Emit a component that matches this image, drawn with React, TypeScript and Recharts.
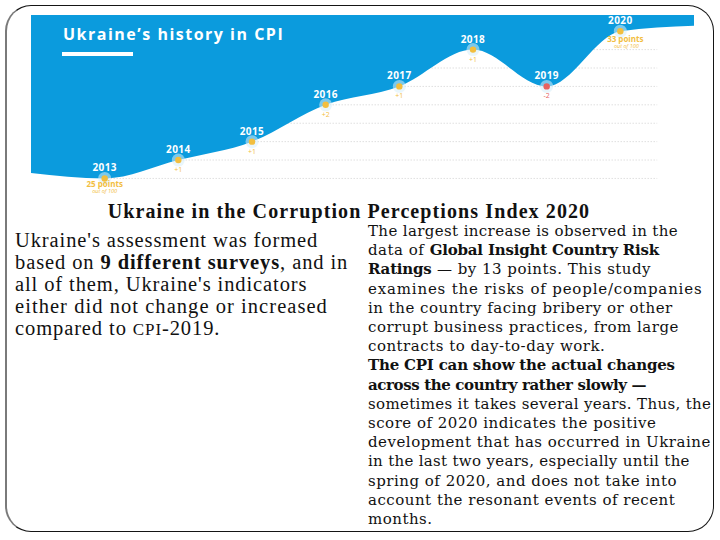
import React from 'react';
import { AreaChart, Area, XAxis, YAxis, ReferenceLine } from 'recharts';

// CPI history, with one padding point each side so the curve runs to the edges
const years = [2012, 2013, 2014, 2015, 2016, 2017, 2018, 2019, 2020, 2021];
const cpiScores = [25.3, 25, 26, 27, 29, 30, 32, 30, 33, 33.3];
const yearLabels = ['', '2013', '2014', '2015', '2016', '2017', '2018', '2019', '2020', ''];
const changeLabels = ['', '25 points', '+1', '+1', '+2', '+1', '+1', '-2', '33 points', ''];
const gridLevels = [25, 26, 27, 28, 29, 30, 31, 32];

const BLUE = '#0B9BDD';
const YELLOW = '#F2BE3F';
const RED = '#E8625F';
const TOP = 33.88;

const chartData = years.map((year, i) => ({
  year,
  cpi: cpiScores[i],
  label: yearLabels[i],
  change: changeLabels[i],
}));

function renderDot(props: any) {
  const { cx, cy, payload, index } = props;
  if (!payload.label) return <g key={`dot-${index}`} />;
  const isDrop = payload.change.startsWith('-');
  const isScore = payload.change.includes('points');
  const isLast = payload.year === 2020;
  return (
    <g key={`dot-${index}`} fontFamily="'Open Sans', sans-serif">
      <circle cx={cx} cy={cy} r={6.5} fill="#d7eefa" fillOpacity={0.55} />
      <circle cx={cx} cy={cy} r={3.2} fill={isDrop ? RED : YELLOW} />
      <text
        x={cx}
        y={cy - 7}
        textAnchor="middle"
        fill="#ffffff"
        fontSize={10}
        fontWeight={700}
        letterSpacing={0.4}
      >
        {payload.label}
      </text>
      {isScore ? (
        <>
          <text
            x={cx + (isLast ? 5 : 0)}
            y={cy + (isLast ? 10.5 : 8.5)}
            textAnchor="middle"
            fill={YELLOW}
            fontSize={8}
            fontWeight={700}
          >
            {payload.change}
          </text>
          <text
            x={cx + (isLast ? 6 : 0)}
            y={cy + (isLast ? 17 : 15)}
            textAnchor="middle"
            fill={YELLOW}
            fontSize={5.5}
            fontStyle="italic"
          >
            out of 100
          </text>
        </>
      ) : (
        <text
          x={cx}
          y={cy + 12}
          textAnchor="middle"
          fill={isDrop ? RED : YELLOW}
          fontSize={7}
        >
          {payload.change}
        </text>
      )}
    </g>
  );
}

const serif = "'Liberation Serif', 'Times New Roman', serif";
const serif2 = "'DejaVu Serif', Georgia, serif";
const chartMargin = { top: 15, right: 0, bottom: 20, left: 0 };

// one line of the right-hand column, with its own tracking
const Line = ({ ls = 0.5, children }: { ls?: number; children: React.ReactNode }) => (
  <div style={{ letterSpacing: ls }}>{children}</div>
);
const B = ({ children }: { children: React.ReactNode }) => (
  <b style={{ letterSpacing: -0.2 }}>{children}</b>
);

export default function App() {
  return (
    <div style={{ position: 'absolute', left: 0, top: 0, width: 720, height: 540, background: '#fff' }}>
      {/* slide frame */}
      <div
        style={{
          position: 'absolute',
          left: 5,
          top: 5,
          width: 709,
          height: 527,
          border: '1.5px solid #151515',
          borderLeft: '2.5px solid #7a7a7a',
          borderRadius: 26,
          boxSizing: 'border-box',
        }}
      />

      {/* dotted guide lines sit in their own chart under the blue area */}
      <div style={{ position: 'absolute', left: 31, top: 0 }}>
        <AreaChart width={663} height={215} data={chartData} margin={chartMargin}>
          <XAxis dataKey="year" type="number" domain={[2012, 2021]} hide />
          <YAxis type="number" domain={[24.1, TOP]} hide allowDataOverflow />
          {gridLevels.map((v) => (
            <ReferenceLine
              key={v}
              segment={[
                { x: 2013, y: v },
                { x: 2020.5, y: v },
              ]}
              stroke="#cfcfcf"
              strokeDasharray="1 2"
              strokeWidth={1}
            />
          ))}
        </AreaChart>
      </div>

      <div style={{ position: 'absolute', left: 31, top: 0 }}>
        <AreaChart width={663} height={215} data={chartData} margin={chartMargin}>
          <XAxis dataKey="year" type="number" domain={[2012, 2021]} hide />
          <YAxis type="number" domain={[24.1, TOP]} hide allowDataOverflow />
          <Area
            type="monotone"
            dataKey="cpi"
            baseValue={TOP}
            stroke="none"
            fill={BLUE}
            fillOpacity={1}
            dot={renderDot}
            activeDot={false}
            isAnimationActive={false}
          />
        </AreaChart>
      </div>

      {/* chart title */}
      <div
        style={{
          position: 'absolute',
          left: 63,
          top: 27,
          color: '#fff',
          fontFamily: "'Open Sans', sans-serif",
          fontWeight: 700,
          fontSize: 16,
          letterSpacing: 1.5,
          lineHeight: '15px',
          whiteSpace: 'nowrap',
        }}
      >
        Ukraine’s history in CPI
      </div>
      <div style={{ position: 'absolute', left: 62, top: 52, width: 71, height: 4, background: '#fff' }} />

      {/* text */}
      <div
        style={{
          position: 'absolute',
          left: 0,
          width: 698,
          top: 200,
          textAlign: 'center',
          fontFamily: serif,
          fontWeight: 700,
          fontSize: 20,
          letterSpacing: 1.1,
          lineHeight: '22px',
          color: '#111',
          whiteSpace: 'nowrap',
        }}
      >
        Ukraine in the Corruption Perceptions Index 2020
      </div>

      <div
        style={{
          position: 'absolute',
          left: 15,
          top: 229,
          fontFamily: serif,
          fontSize: 20.5,
          letterSpacing: 0.9,
          lineHeight: '22px',
          color: '#111',
          whiteSpace: 'nowrap',
        }}
      >
        Ukraine's assessment was formed
        <br />
        based on <b>9 different surveys</b>, and in
        <br />
        all of them, Ukraine's indicators
        <br />
        <span style={{ letterSpacing: 1.05 }}>either did not change or increased</span>
        <br />
        compared to <span style={{ fontSize: 17 }}>CPI</span>-2019.
      </div>

      <div
        style={{
          position: 'absolute',
          left: 368,
          top: 222,
          fontFamily: serif2,
          fontSize: 15,
          lineHeight: '19.2px',
          color: '#111',
          whiteSpace: 'nowrap',
        }}
      >
        <Line ls={0.37}>The largest increase is observed in the</Line>
        <Line>
          data of <B>Global Insight Country Risk</B>
        </Line>
        <Line>
          <B>Ratings</B> — by 13 points. This study
        </Line>
        <Line ls={0.82}>examines the risks of people/companies</Line>
        <Line>in the country facing bribery or other</Line>
        <Line>corrupt business practices, from large</Line>
        <Line>contracts to day-to-day work.</Line>
        <Line>
          <B>The CPI can show the actual changes</B>
        </Line>
        <Line>
          <b style={{ letterSpacing: -0.38 }}>across the country rather slowly —</b>
        </Line>
        <Line ls={0.34}>sometimes it takes several years. Thus, the</Line>
        <Line>score of 2020 indicates the positive</Line>
        <Line>development that has occurred in Ukraine</Line>
        <Line ls={0.31}>in the last two years, especially until the</Line>
        <Line>spring of 2020, and does not take into</Line>
        <Line>account the resonant events of recent</Line>
        <Line>months.</Line>
      </div>
    </div>
  );
}
